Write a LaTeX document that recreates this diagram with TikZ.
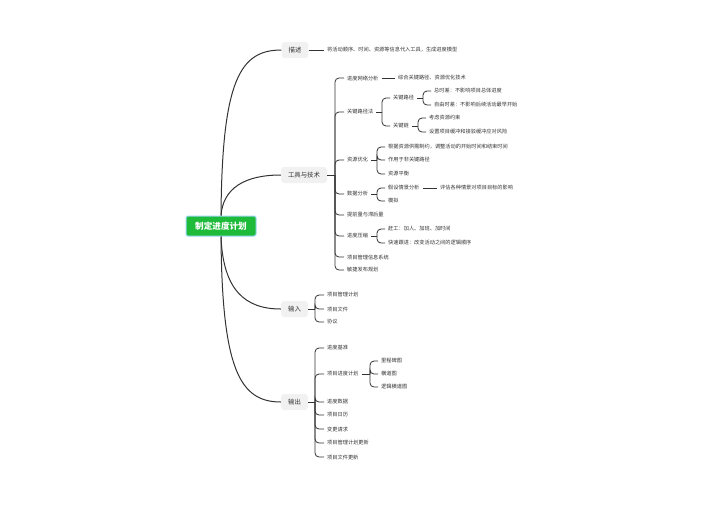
\documentclass[tikz,border=0pt]{standalone}
\usepackage{fontspec}
\setmainfont{Noto Sans CJK SC}
\usetikzlibrary{positioning}
\definecolor{rootgreen}{RGB}{30,186,58}
\definecolor{rootedge}{RGB}{160,215,245}
\definecolor{topicgray}{RGB}{241,241,241}
\definecolor{linegray}{RGB}{51,51,51}
\tikzset{
  rootbox/.style={rectangle,rounded corners=2pt,fill=rootgreen,draw=rootedge,line width=1pt,text=white,font=\fontsize{8.6}{10}\selectfont\bfseries,minimum width=70pt,minimum height=20pt},
  topic/.style={rectangle,rounded corners=3pt,fill=topicgray,text=linegray,font=\fontsize{6.4}{8}\selectfont,minimum height=16pt,inner xsep=7pt},
  leaf/.style={anchor=west,inner xsep=3pt,inner ysep=1pt,text=linegray,font=\fontsize{5.2}{6}\selectfont},
  link/.style={draw=linegray,line width=0.8pt,rounded corners=4pt},
  curve/.style={draw=linegray,line width=1pt},
}
\begin{document}
\begin{tikzpicture}[x=1pt,y=-1pt]
\useasboundingbox (0,0) rectangle (704,504);
% centre and main topics
\node[rootbox] (root) at (221,226) {制定进度计划};
\node[topic] (desc) at (295,50) {描述};
\node[topic] (tools) at (304,175) {工具与技术};
\node[topic] (inp) at (294.5,309) {输入};
\node[topic] (outp) at (294.5,402) {输出};
\draw[curve] (root.north) .. controls (222,80) and (240,50) .. (desc.west);
\draw[curve] (root.north) .. controls (223,188) and (245,175) .. (tools.west);
\draw[curve] (root.south) .. controls (223,290) and (245,309) .. (inp.west);
\draw[curve] (root.south) .. controls (222,370) and (240,402) .. (outp.west);

% describe
\node[leaf] (d1) at (324,50) {将活动顺序、时间、资源等信息代入工具，生成进度模型};
\draw[link] (desc) -- (d1);

% tools and techniques
\node[leaf] (t1) at (344,78) {进度网络分析};
\node[leaf] (t2) at (344,112) {关键路径法};
\node[leaf] (t3) at (344,160) {资源优化};
\node[leaf] (t4) at (344,194) {数据分析};
\node[leaf] (t5) at (344,215) {提前量与滞后量};
\node[leaf] (t6) at (344,236) {进度压缩};
\node[leaf] (t7) at (344,257) {项目管理信息系统};
\node[leaf] (t8) at (344,270) {敏捷发布规划};
\coordinate (tj) at (335,175);
\draw[link] (tools.east) -- (tj);
\foreach \n in {t1,t2,t3,t4,t5,t6,t7,t8}
  \draw[link] (tj) |- (\n.west);

\node[leaf] (t11) at (395,78) {综合关键路径、资源优化技术};
\draw[link] (t1) -- (t11);

\node[leaf] (t21) at (390,98) {关键路径};
\node[leaf] (t22) at (390,126) {关键链};
\coordinate (t2j) at (382,112);
\draw[link] (t2.east) -- (t2j);
\foreach \n in {t21,t22}
  \draw[link] (t2j) |- (\n.west);

\node[leaf] (t211) at (431,91) {总时差：不影响项目总体进度};
\node[leaf] (t212) at (431,105) {自由时差：不影响后续活动最早开始};
\coordinate (t21j) at (423,98);
\draw[link] (t21.east) -- (t21j);
\foreach \n in {t211,t212}
  \draw[link] (t21j) |- (\n.west);

\node[leaf] (t221) at (426,118) {考虑资源约束};
\node[leaf] (t222) at (426,132) {设置项目缓冲和接驳缓冲应对风险};
\coordinate (t22j) at (418,126);
\draw[link] (t22.east) -- (t22j);
\foreach \n in {t221,t222}
  \draw[link] (t22j) |- (\n.west);

\node[leaf] (t31) at (385,147) {根据资源供需制约，调整活动的开始时间和结束时间};
\node[leaf] (t32) at (385,160) {作用于非关键路径};
\node[leaf] (t33) at (385,174) {资源平衡};
\coordinate (t3j) at (377,160);
\draw[link] (t3.east) -- (t3j);
\foreach \n in {t31,t32,t33}
  \draw[link] (t3j) |- (\n.west);

\node[leaf] (t41) at (385,188) {假设情景分析};
\node[leaf] (t42) at (385,201) {模拟};
\coordinate (t4j) at (377,194);
\draw[link] (t4.east) -- (t4j);
\foreach \n in {t41,t42}
  \draw[link] (t4j) |- (\n.west);
\node[leaf] (t411) at (437,188) {评估各种情景对项目目标的影响};
\draw[link] (t41) -- (t411);

\node[leaf] (t61) at (385,229) {赶工：加人、加班、加时间};
\node[leaf] (t62) at (385,243) {快速跟进：改变活动之间的逻辑顺序};
\coordinate (t6j) at (377,236);
\draw[link] (t6.east) -- (t6j);
\foreach \n in {t61,t62}
  \draw[link] (t6j) |- (\n.west);

% inputs
\node[leaf] (i1) at (324,295) {项目管理计划};
\node[leaf] (i2) at (324,309) {项目文件};
\node[leaf] (i3) at (324,322) {协议};
\coordinate (ij) at (315,309);
\draw[link] (inp.east) -- (ij);
\foreach \n in {i1,i2,i3}
  \draw[link] (ij) |- (\n.west);

% outputs
\node[leaf] (o1) at (324,348) {进度基准};
\node[leaf] (o2) at (324,374) {项目进度计划};
\node[leaf] (o3) at (324,402) {进度数据};
\node[leaf] (o4) at (324,415) {项目日历};
\node[leaf] (o5) at (324,429) {变更请求};
\node[leaf] (o6) at (324,443) {项目管理计划更新};
\node[leaf] (o7) at (324,457) {项目文件更新};
\coordinate (oj) at (315,402);
\draw[link] (outp.east) -- (oj);
\foreach \n in {o1,o2,o3,o4,o5,o6,o7}
  \draw[link] (oj) |- (\n.west);

\node[leaf] (o21) at (378,361) {里程碑图};
\node[leaf] (o22) at (378,374) {横道图};
\node[leaf] (o23) at (378,387) {逻辑横道图};
\coordinate (o2j) at (370,374);
\draw[link] (o2.east) -- (o2j);
\foreach \n in {o21,o22,o23}
  \draw[link] (o2j) |- (\n.west);

\end{tikzpicture}
\end{document}
